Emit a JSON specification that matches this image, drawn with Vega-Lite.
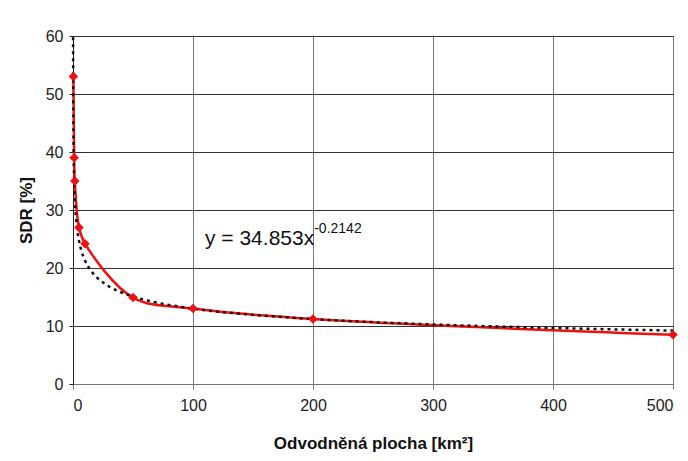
{
  "$schema": "https://vega.github.io/schema/vega-lite/v6.json",
  "width": 600,
  "height": 348,
  "autosize": {"type": "none"},
  "padding": {"left": 73, "top": 36, "right": 15, "bottom": 77},
  "background": "white",
  "config": {
    "font": "Liberation Sans",
    "view": {"stroke": "#888", "strokeWidth": 1},
    "axisX": {
      "domainColor": "#777", "gridColor": "#777", "tickColor": "#777", "tickSize": 5,
      "labelFontSize": 16, "labelColor": "#222", "labelPadding": 8,
      "titleFontSize": 17, "titleFontWeight": "bold", "titleColor": "#111", "titlePadding": 22
    },
    "axisY": {
      "domainColor": "#222", "gridColor": "#333", "tickColor": "#222", "tickSize": 4,
      "labelFontSize": 16, "labelColor": "#222", "labelPadding": 6,
      "titleFontSize": 17, "titleFontWeight": "bold", "titleColor": "#111", "titlePadding": 10
    }
  },
  "datasets": {
    "obs": [
      {"plocha": 0.3, "sdr": 53},
      {"plocha": 1, "sdr": 39},
      {"plocha": 1.5, "sdr": 35},
      {"plocha": 5, "sdr": 27},
      {"plocha": 10, "sdr": 24.2},
      {"plocha": 50, "sdr": 14.9},
      {"plocha": 100, "sdr": 13.0},
      {"plocha": 200, "sdr": 11.2},
      {"plocha": 500, "sdr": 8.5}
    ],
    "trend": [
      {"plocha": 0.08, "sdr": 59.8},
      {"plocha": 0.2, "sdr": 49.2},
      {"plocha": 0.5, "sdr": 40.4},
      {"plocha": 1, "sdr": 34.85},
      {"plocha": 2, "sdr": 30.05},
      {"plocha": 3, "sdr": 27.55},
      {"plocha": 5, "sdr": 24.69},
      {"plocha": 7, "sdr": 22.97},
      {"plocha": 10, "sdr": 21.29},
      {"plocha": 15, "sdr": 19.51},
      {"plocha": 20, "sdr": 18.35},
      {"plocha": 30, "sdr": 16.82},
      {"plocha": 40, "sdr": 15.82},
      {"plocha": 50, "sdr": 15.08},
      {"plocha": 70, "sdr": 14.03},
      {"plocha": 100, "sdr": 13.0},
      {"plocha": 150, "sdr": 11.92},
      {"plocha": 200, "sdr": 11.2},
      {"plocha": 300, "sdr": 10.27},
      {"plocha": 400, "sdr": 9.66},
      {"plocha": 500, "sdr": 9.21}
    ],
    "labels": [
      {"text": "y = 34.853x", "part": "main"},
      {"text": "-0.2142", "part": "exp"}
    ]
  },
  "layer": [
    {
      "data": {"name": "obs"},
      "mark": {"type": "line", "color": "#f01010", "strokeWidth": 2.5, "interpolate": "catmull-rom"},
      "encoding": {
        "x": {
          "field": "plocha", "type": "quantitative",
          "scale": {"domain": [0, 500], "nice": false, "zero": false},
          "axis": {"values": [0, 100, 200, 300, 400, 500], "title": "Odvodněná plocha [km²]"}
        },
        "y": {
          "field": "sdr", "type": "quantitative",
          "scale": {"domain": [0, 60], "nice": false, "zero": false},
          "axis": {"values": [0, 10, 20, 30, 40, 50, 60], "title": "SDR [%]"}
        }
      }
    },
    {
      "data": {"name": "trend"},
      "mark": {"type": "line", "color": "#111", "strokeWidth": 2.5, "strokeDash": [3, 4], "interpolate": "monotone"},
      "encoding": {
        "x": {"field": "plocha", "type": "quantitative"},
        "y": {"field": "sdr", "type": "quantitative"}
      }
    },
    {
      "data": {"name": "obs"},
      "mark": {"type": "point", "shape": "diamond", "filled": true, "color": "#f01010", "size": 90, "opacity": 1},
      "encoding": {
        "x": {"field": "plocha", "type": "quantitative"},
        "y": {"field": "sdr", "type": "quantitative"}
      }
    },
    {
      "data": {"name": "labels"},
      "transform": [{"filter": "datum.part === 'main'"}],
      "mark": {"type": "text", "align": "left", "baseline": "alphabetic", "fontSize": 21, "color": "#111"},
      "encoding": {
        "x": {"datum": 110, "type": "quantitative"},
        "y": {"datum": 24, "type": "quantitative"},
        "text": {"field": "text", "type": "nominal"}
      }
    },
    {
      "data": {"name": "labels"},
      "transform": [{"filter": "datum.part === 'exp'"}],
      "mark": {"type": "text", "align": "left", "baseline": "alphabetic", "fontSize": 14, "color": "#111"},
      "encoding": {
        "x": {"datum": 201, "type": "quantitative"},
        "y": {"datum": 26, "type": "quantitative"},
        "text": {"field": "text", "type": "nominal"}
      }
    }
  ]
}
